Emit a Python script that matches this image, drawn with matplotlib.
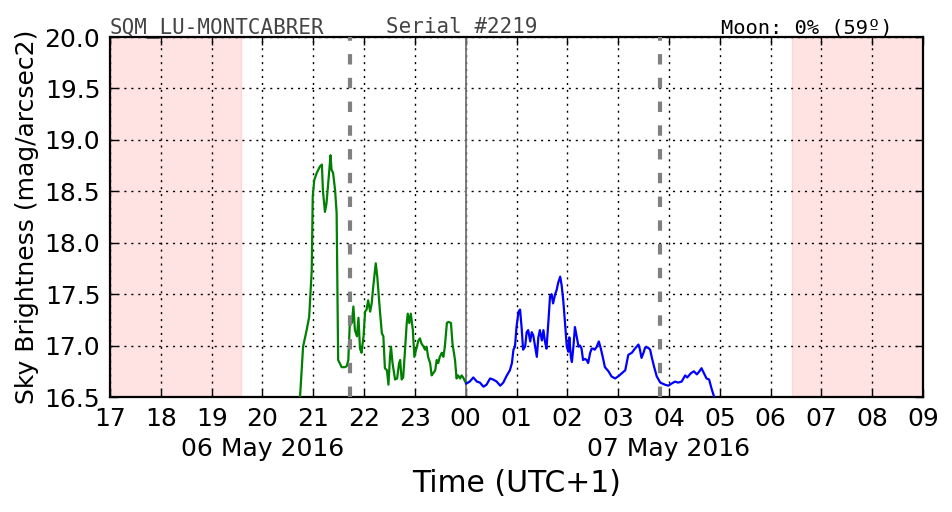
import numpy as np
import pandas as pd
import matplotlib
matplotlib.use('Agg')
import matplotlib.pyplot as plt
import matplotlib.dates as mdates
from matplotlib.ticker import MultipleLocator, FormatStrFormatter

# --- readings: local hour of day (UTC+1) and sky brightness (mag/arcsec2) ---
hours_may06 = [20.70, 20.74, 20.80, 20.87, 20.92, 20.97, 20.99, 21.02, 21.07, 21.13,
               21.17, 21.19, 21.23, 21.26, 21.30, 21.34, 21.36, 21.39, 21.43, 21.46,
               21.49, 21.56, 21.62, 21.66, 21.69, 21.72, 21.76, 21.79, 21.82, 21.86,
               21.89, 21.92, 21.95, 21.99, 22.02, 22.05, 22.08, 22.12, 22.15, 22.18,
               22.23, 22.26, 22.31, 22.35, 22.38, 22.41, 22.45, 22.48, 22.51, 22.53,
               22.56, 22.61, 22.65, 22.69, 22.71, 22.74, 22.77, 22.81, 22.84, 22.86,
               22.89, 22.92, 22.96, 22.99, 23.04, 23.07, 23.10, 23.13, 23.17, 23.20,
               23.23, 23.26, 23.30, 23.33, 23.36, 23.40, 23.43, 23.46, 23.49, 23.53,
               23.56, 23.59, 23.63, 23.66, 23.71, 23.74, 23.79, 23.82, 23.85, 23.89,
               23.92, 23.95, 23.99]
mag_may06 = [16.30, 16.50, 16.99, 17.15, 17.28, 17.73, 18.45, 18.61, 18.68, 18.74,
             18.76, 18.51, 18.30, 18.38, 18.61, 18.85, 18.71, 18.68, 18.51, 18.29,
             16.86, 16.79, 16.79, 16.80, 16.86, 17.22, 17.22, 17.38, 17.15, 17.09,
             17.27, 16.97, 16.93, 17.09, 17.33, 17.35, 17.44, 17.33, 17.41, 17.57,
             17.80, 17.67, 17.35, 17.12, 17.09, 16.78, 16.76, 16.62, 16.89, 16.99,
             16.83, 16.67, 16.68, 16.83, 16.86, 16.67, 16.69, 16.99, 17.22, 17.31,
             17.22, 17.31, 17.15, 16.89, 16.99, 17.05, 17.07, 17.02, 16.99, 16.96,
             16.99, 16.89, 16.83, 16.71, 16.73, 16.76, 16.86, 16.83, 16.89, 16.93,
             16.89, 16.99, 17.22, 17.23, 17.22, 17.02, 16.86, 16.68, 16.71, 16.68,
             16.71, 16.69, 16.65]

hours_may07 = [0.01, 0.08, 0.15, 0.22, 0.28, 0.35, 0.41, 0.48, 0.54, 0.61,
               0.68, 0.74, 0.81, 0.87, 0.91, 0.94, 0.97, 1.00, 1.04, 1.07,
               1.10, 1.13, 1.17, 1.20, 1.23, 1.27, 1.30, 1.33, 1.36, 1.40,
               1.43, 1.46, 1.50, 1.53, 1.56, 1.59, 1.63, 1.66, 1.69, 1.72,
               1.76, 1.79, 1.82, 1.86, 1.89, 1.92, 1.95, 1.99, 2.02, 2.04,
               2.07, 2.09, 2.12, 2.15, 2.18, 2.22, 2.25, 2.28, 2.31, 2.35,
               2.38, 2.41, 2.45, 2.48, 2.51, 2.54, 2.58, 2.62, 2.66, 2.71,
               2.74, 2.81, 2.87, 2.94, 3.00, 3.07, 3.14, 3.20, 3.27, 3.33,
               3.40, 3.43, 3.46, 3.50, 3.53, 3.59, 3.63, 3.66, 3.71, 3.76,
               3.83, 3.92, 3.99, 4.05, 4.12, 4.18, 4.25, 4.32, 4.36, 4.43,
               4.49, 4.55, 4.60, 4.64, 4.69, 4.74, 4.79, 4.84, 4.89, 4.95]
mag_may07 = [16.63, 16.65, 16.69, 16.65, 16.64, 16.60, 16.62, 16.68, 16.67, 16.65,
             16.61, 16.64, 16.71, 16.76, 16.83, 16.96, 16.99, 17.18, 17.33, 17.35,
             17.18, 16.96, 16.99, 17.13, 17.15, 17.04, 17.13, 17.10, 17.01, 16.89,
             17.08, 17.15, 17.05, 17.15, 17.04, 16.97, 17.25, 17.48, 17.50, 17.41,
             17.50, 17.54, 17.61, 17.67, 17.58, 17.44, 17.25, 16.99, 16.94, 17.08,
             16.89, 16.84, 16.99, 17.18, 17.10, 16.99, 17.00, 16.97, 16.86, 16.87,
             16.86, 16.83, 16.93, 16.97, 16.97, 16.96, 16.99, 17.04, 16.97, 16.86,
             16.79, 16.75, 16.70, 16.68, 16.70, 16.73, 16.76, 16.91, 16.93, 16.97,
             17.01, 16.96, 16.88, 16.93, 16.98, 16.98, 16.96, 16.89, 16.79, 16.70,
             16.64, 16.62, 16.61, 16.63, 16.65, 16.64, 16.65, 16.71, 16.69, 16.73,
             16.75, 16.72, 16.75, 16.78, 16.73, 16.68, 16.67, 16.58, 16.50, 16.30]

station = "SQM_LU-MONTCABRER"
serial = "Serial #2219"
moon_info = "Moon: 0% (59º)"
date_labels = ["06 May 2016", "07 May 2016"]

day1 = pd.Timestamp('2016-05-06')
day2 = pd.Timestamp('2016-05-07')
t_start = day1 + pd.Timedelta(hours=17)
t_end = day2 + pd.Timedelta(hours=9)
sun_set = day1 + pd.Timedelta(hours=19.58)     # end of pink band (evening)
sun_rise = day2 + pd.Timedelta(hours=6.42)     # start of pink band (morning)
astro_lines = [day1 + pd.Timedelta(hours=21.72), day2 + pd.Timedelta(hours=3.83)]
midnight = day2
date_label_pos = [day1 + pd.Timedelta(hours=20), day2 + pd.Timedelta(hours=4)]

t1 = day1 + pd.to_timedelta(hours_may06, unit='h')
t2 = day2 + pd.to_timedelta(hours_may07, unit='h')

# --- figure ---
fig = plt.figure(figsize=(9.52, 5.12), dpi=100)
ax = fig.add_axes([110 / 952, 1 - 397 / 512, 813 / 952, 360 / 512])

ax.axvspan(t_start, sun_set, color='red', alpha=0.11, lw=1, zorder=0)
ax.axvspan(sun_rise, t_end, color='red', alpha=0.11, lw=1, zorder=0)

ax.plot(t1, mag_may06, color='green', lw=1.6, zorder=3)
ax.plot(t2, mag_may07, color='blue', lw=1.6, zorder=3)

for t in astro_lines:
    ax.axvline(t, color='gray', lw=3, linestyle=(0, (2.5, 3.2)), zorder=4)
ax.axvline(midnight, color='0.45', lw=1.3, zorder=2)

ax.set_xlim(t_start, t_end)
ax.set_ylim(16.5, 20.0)

ax.xaxis.set_major_locator(mdates.HourLocator())
ax.xaxis.set_major_formatter(mdates.DateFormatter('%H'))
ax.yaxis.set_major_locator(MultipleLocator(0.5))
ax.yaxis.set_major_formatter(FormatStrFormatter('%.1f'))

ax.tick_params(which='major', direction='in', length=6, width=1,
               top=True, right=True, labelsize=18, pad=7)
ax.grid(True, which='major', color='black', lw=1, linestyle=(0, (1.5, 3.5)))

# date line under the hour labels
for pos, lab in zip(date_label_pos, date_labels):
    ax.annotate(lab, xy=(pos, 0), xycoords=('data', 'axes fraction'),
                xytext=(0, -29), textcoords='offset points',
                ha='center', va='top', fontsize=18)

for sp in ax.spines.values():
    sp.set_linewidth(1.6)

ax.set_ylabel('Sky Brightness (mag/arcsec2)', fontsize=18, labelpad=4)
ax.set_xlabel('Time (UTC+1)', fontsize=21.5)
ax.xaxis.set_label_coords(0.5, -0.2)

ax.text(0.0, 1.011, station, transform=ax.transAxes, family='DejaVu Sans Mono',
        fontsize=15, color='#444444', ha='left', va='baseline')
ax.text(0.34, 1.011, serial, transform=ax.transAxes, family='DejaVu Sans Mono',
        fontsize=15, color='#444444', ha='left', va='baseline')
ax.text(0.962, 1.011, moon_info, transform=ax.transAxes, family='DejaVu Sans Mono',
        fontsize=14.7, color='black', ha='right', va='baseline')

fig.savefig('out.png', dpi=100)
